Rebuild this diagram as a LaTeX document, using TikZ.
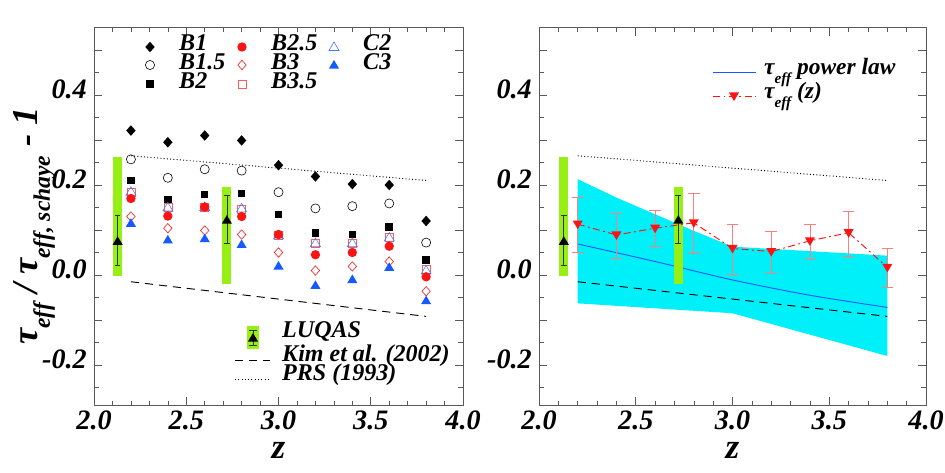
\documentclass[tikz,border=0pt]{standalone}
\usepackage{fontspec}
\setmainfont{Liberation Serif}
\newcommand\mysub[1]{\raisebox{-0.35em}{\scalebox{0.65}{#1}}}
\begin{document}
\begin{tikzpicture}[x=0.03cm,y=-0.03cm,
  lbl/.style={font=\fontsize{20.5}{22}\selectfont\bfseries\itshape,inner sep=0pt,text height=0.7em,text depth=0.02em},
  tkl/.style={font=\fontsize{24}{26}\selectfont\bfseries\itshape,inner sep=0pt,text height=0.68em,text depth=0em},
  pics/dia/.style={code={\fill[#1] (0,4.5pt)--(4pt,0)--(0,-4.5pt)--(-4pt,0)--cycle;}},
  pics/odia/.style={code={\draw[#1,line width=0.5pt] (0,4pt)--(3.6pt,0)--(0,-4pt)--(-3.6pt,0)--cycle;}},
  pics/fcirc/.style={code={\fill[#1] (0,0) circle (4pt);}},
  pics/ocirc/.style={code={\draw[#1,line width=0.5pt] (0,0) circle (3.9pt);}},
  pics/fsq/.style={code={\fill[#1] (-3.2pt,-3.2pt) rectangle (3.2pt,3.2pt);}},
  pics/osq/.style={code={\draw[#1,line width=0.5pt] (-3.4pt,-3.4pt) rectangle (3.4pt,3.4pt);}},
  pics/ftri/.style={code={\fill[#1] (0,4.3pt)--(4.3pt,-3pt)--(-4.3pt,-3pt)--cycle;}},
  pics/otri/.style={code={\draw[#1,line width=0.5pt] (0,4.3pt)--(4.3pt,-3pt)--(-4.3pt,-3pt)--cycle;}},
  pics/dtri/.style={code={\fill[#1] (0,-4.3pt)--(4.3pt,3pt)--(-4.3pt,3pt)--cycle;}},
]
\definecolor{lime}{RGB}{150,240,20}
\definecolor{cyanb}{RGB}{0,240,250}
\definecolor{myblue}{RGB}{20,90,255}
\definecolor{myred}{RGB}{250,20,20}
\useasboundingbox (0,0) rectangle (945,472);
\newcommand\frameticks{%
  \draw[line width=0.5pt,gray!70!black] (2,-0.29) rectangle (4,0.55);
  \foreach \i in {1,...,19}{\pgfmathsetmacro\xx{2+\i/10}
    \pgfmathtruncatemacro\mj{mod(\i,5)==0}
    \ifnum\mj=1 \def\tl{7pt}\else\def\tl{4pt}\fi
    \draw[line width=0.5pt,gray!70!black] (\xx,-0.29) -- ++(0,\tl) (\xx,0.55) -- ++(0,-\tl);}
  \foreach \i in {-5,...,10}{\pgfmathsetmacro\yy{\i/20}
    \pgfmathtruncatemacro\mj{mod(\i+10,2)==0}
    \ifnum\mj=1 \def\tl{7pt}\else\def\tl{4pt}\fi
    \draw[line width=0.5pt,gray!70!black] (2,\yy) -- ++(\tl,0) (4,\yy) -- ++(-\tl,0);}
  \foreach \v/\t in {0.4/0.4,0.2/0.2,0/0.0,-0.2/-0.2}
    \node[tkl,anchor=east] at ([xshift=-6pt]2,\v) {\t};
  \foreach \v in {2.0,2.5,3.0,3.5,4.0}
    \node[tkl] at (\v,-0.335) {\v};
  \node[tkl,font=\fontsize{30}{32}\selectfont\bfseries\itshape,text height=0.45em] at (3,-0.402) {z};
  \draw[dotted,line width=0.8pt] (2.2,0.265) -- (3.8,0.21);
  \draw[dash pattern=on 7pt off 5pt,line width=0.8pt] (2.2,-0.015) -- (3.8,-0.092);
}
\newcommand\luqas[6]{% z,top,bot,val,elo,ehi
  \fill[lime] (#1-0.024,#2) rectangle (#1+0.024,#3);
  \draw[black!80,line width=0.5pt] (#1,#5)--(#1,#6) (#1-0.015,#5)--(#1+0.015,#5) (#1-0.015,#6)--(#1+0.015,#6);
  \pic at (#1,#4) {ftri=black};
}
% LEFT PANEL
\begin{scope}[shift={(-275,275)},x=5.535cm,y=13.5cm]
\frameticks
\luqas{2.128}{0.262}{-0.002}{0.075}{0.021}{0.132}
\luqas{2.72}{0.195}{-0.02}{0.122}{0.07}{0.177}
\foreach \z/\v in {2.2/0.321,2.4/0.295,2.6/0.310,2.8/0.299,3.0/0.244,3.2/0.219,3.4/0.202,3.6/0.200,3.8/0.120} \pic at (\z,\v) {dia=black};
\foreach \z/\v in {2.2/0.257,2.4/0.216,2.6/0.235,2.8/0.232,3.0/0.184,3.2/0.148,3.4/0.153,3.6/0.159,3.8/0.072} \pic at (\z,\v) {ocirc=black};
\foreach \z/\v in {2.2/0.210,2.4/0.167,2.6/0.179,2.8/0.181,3.0/0.134,3.2/0.093,3.4/0.090,3.6/0.107,3.8/0.033} \pic at (\z,\v) {fsq=black};
\foreach \z/\v in {2.2/0.183,2.4/0.150,2.6/0.151,2.8/0.147,3.0/0.089,3.2/0.071,3.4/0.071,3.6/0.083,3.8/0.013} \pic at (\z,\v) {osq=myred!70};
\foreach \z/\v in {2.2/0.185,2.4/0.150,2.6/0.151,2.8/0.148,3.0/0.088,3.2/0.071,3.4/0.071,3.6/0.083,3.8/0.010} \pic at (\z,\v) {otri=myblue!80};
\foreach \z/\v in {2.2/0.170,2.4/0.131,2.6/0.151,2.8/0.130,3.0/0.090,3.2/0.045,3.4/0.050,3.6/0.064,3.8/-0.004} \pic at (\z,\v) {fcirc=myred};
\foreach \z/\v in {2.2/0.130,2.4/0.104,2.6/0.099,2.8/0.090,3.0/0.050,3.2/0.010,3.4/0.019,3.6/0.030,3.8/-0.036} \pic at (\z,\v) {odia=myred};
\foreach \z/\v in {2.2/0.115,2.4/0.078,2.6/0.081,2.8/0.068,3.0/0.020,3.2/-0.023,3.4/-0.010,3.6/0.017,3.8/-0.057} \pic at (\z,\v) {ftri=myblue};
\end{scope}
% left legend
\pic at (150,47) {dia=black}; \node[lbl,anchor=west] (lb1) at (179,47) {B1};
\pic at (150,65) {ocirc=black}; \node[lbl,anchor=west] (lb15) at (179,66) {B1.5};
\pic at (150,84) {fsq=black}; \node[lbl,anchor=west] (lb2) at (179,85) {B2};
\pic at (242,47) {fcirc=myred}; \node[lbl,anchor=west] (lb25) at (271,47) {B2.5};
\pic at (242,65) {odia=myred}; \node[lbl,anchor=west] (lb3) at (271,66) {B3};
\pic at (242,84) {osq=myred!70}; \node[lbl,anchor=west] (lb35) at (271,85) {B3.5};
\pic at (334,47) {otri=myblue!80}; \node[lbl,anchor=west] (lc2) at (363,47) {C2};
\pic at (334,65) {ftri=myblue}; \node[lbl,anchor=west] (lc3) at (363,66) {C3};
\fill[lime] (247,326) rectangle (259,349);
\draw[black!80,line width=0.5pt] (253,330)--(253,345) (249,330)--(257,330) (249,345)--(257,345);
\pic at (253,338) {ftri=black};
\node[lbl,anchor=west] (lluq) at (282,334) {LUQAS};
\draw[dash pattern=on 7pt off 5pt,line width=0.8pt] (235,360)--(270,360);
\node[lbl,anchor=west] (lkim) at (282,358) {Kim et al. (2002)};
\draw[dotted,line width=0.8pt] (235,379)--(270,379);
\node[lbl,anchor=west] (lprs) at (282,377) {PRS (1993)};
\node[rotate=90,font=\fontsize{31}{33}\selectfont\bfseries\itshape] (ylab) at (34,226)
  {τ\mysub{eff} / τ\mysub{eff, schaye} - 1};
% RIGHT PANEL
\begin{scope}[shift={(152,275)},x=5.805cm,y=13.5cm]
\fill[cyanb] (2.2,0.213)--(2.4,0.172)--(2.6,0.135)--(2.8,0.098)--(3.0,0.063)--(3.8,0.043)--(3.8,-0.18)--(3.0,-0.085)--(2.2,-0.063)--cycle;
\frameticks
\draw[myblue,line width=0.8pt] plot[smooth] coordinates {(2.2,0.069)(2.6,0.030)(3.0,-0.011)(3.4,-0.045)(3.8,-0.072)};
\luqas{2.128}{0.262}{-0.002}{0.075}{0.021}{0.132}
\luqas{2.72}{0.195}{-0.02}{0.122}{0.07}{0.177}
\foreach \z/\lo/\hi in {2.2/0.050/0.173,2.4/0.037/0.137,2.6/0.063/0.143,2.8/0.048/0.181,3.0/0.001/0.112,3.2/0.004/0.098,3.4/0.035/0.113,3.6/0.042/0.141,3.8/-0.027/0.059}
  \draw[myred!55,line width=0.6pt] (\z,\lo)--(\z,\hi) (\z-0.03,\lo)--(\z+0.03,\lo) (\z-0.03,\hi)--(\z+0.03,\hi);
\draw[myred,line width=0.8pt,dash pattern=on 6pt off 3pt on 1.5pt off 3pt] (2.2,0.113)--(2.4,0.089)--(2.6,0.104)--(2.8,0.116)--(3.0,0.059)--(3.2,0.052)--(3.4,0.076)--(3.6,0.094)--(3.8,0.017);
\foreach \z/\v in {2.2/0.113,2.4/0.089,2.6/0.104,2.8/0.116,3.0/0.059,3.2/0.052,3.4/0.076,3.6/0.094,3.8/0.017} \pic at (\z,\v) {dtri=myred};
\end{scope}
\draw[myblue,line width=0.8pt] (713,72)--(756,72);
\node[lbl,anchor=west,font=\fontsize{20}{22}\selectfont\bfseries\itshape] (rpl) at (764,71) {τ\mysub{eff} power law};
\draw[myred,line width=0.8pt,dash pattern=on 6pt off 3pt on 1.5pt off 3pt] (713,96)--(756,96);
\pic at (734,96) {dtri=myred};
\node[lbl,anchor=west,font=\fontsize{20}{22}\selectfont\bfseries\itshape] (rtz) at (764,95) {τ\mysub{eff} (z)};
\end{tikzpicture}
\end{document}
